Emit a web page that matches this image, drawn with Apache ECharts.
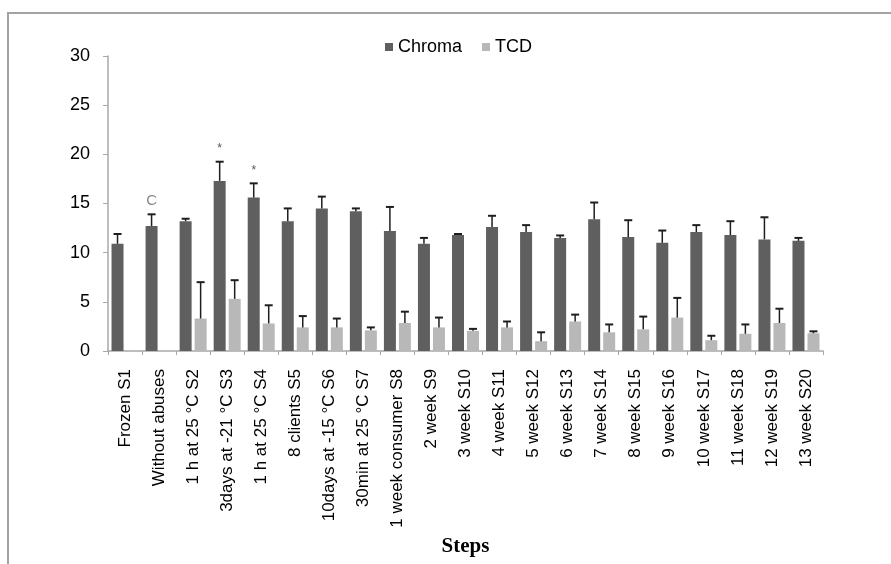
<!DOCTYPE html>
<html>
<head>
<meta charset="utf-8">
<script src="https://cdn.jsdelivr.net/npm/echarts@6/dist/echarts.min.js"></script>
<style>
  html, body { margin: 0; padding: 0; background: #fff; }
  #chart { width: 891px; height: 564px; }
</style>
</head>
<body>
<div id="chart"></div>
<script>
// categories (x axis)
const steps = [
  "Frozen S1", "Without abuses", "1 h at 25 °C S2", "3days at -21 °C S3", "1 h at 25 °C S4",
  "8 clients S5", "10days at -15 °C S6", "30min at 25 °C S7", "1 week consumer S8",
  "2 week S9", "3 week S10", "4 week S11", "5 week S12", "6 week S13", "7 week S14",
  "8 week S15", "9 week S16", "10 week S17", "11 week S18", "12 week S19", "13 week S20"
];
// means and upper error bars
const chroma    = [10.9, 12.7, 13.2, 17.3, 15.6, 13.2, 14.5, 14.2, 12.2, 10.9, 11.8, 12.6, 12.1, 11.5, 13.4, 11.6, 11.0, 12.1, 11.8, 11.35, 11.2];
const chromaErr = [1.0, 1.2, 0.25, 1.95, 1.45, 1.3, 1.2, 0.3, 2.45, 0.6, 0.1, 1.15, 0.7, 0.25, 1.7, 1.7, 1.25, 0.7, 1.4, 2.25, 0.3];
const tcd       = [null, null, 3.3, 5.3, 2.8, 2.4, 2.4, 2.1, 2.85, 2.4, 2.05, 2.4, 1.0, 3.0, 1.9, 2.2, 3.4, 1.1, 1.75, 2.85, 1.8];
const tcdErr    = [null, null, 3.7, 1.9, 1.85, 1.15, 0.9, 0.3, 1.15, 1.0, 0.2, 0.6, 0.9, 0.7, 0.8, 1.3, 2.0, 0.45, 0.95, 1.45, 0.2];
// letters / stars above chroma bars
const chromaMarks = ["", "C", "", "*", "*", "", "", "", "", "", "", "", "", "", "", "", "", "", "", "", ""];
// y axis
const yMin = 0, yMax = 30, yStep = 5;

const barW = 12;
const pairOffset = 7.5; // half of bar + gap

function errorSeries(name, means, errs, marks, shift) {
  return {
    name: name + " err",
    type: "custom",
    z: 5,
    data: means.map((v, i) => [i, v, errs[i]]),
    encode: { x: 0, y: 1 },
    renderItem: function (params, api) {
      const mean = api.value(1);
      const err = api.value(2);
      if (mean == null || isNaN(mean) || err == null || isNaN(err)) return;
      const base = api.coord([api.value(0), mean]);
      const top = api.coord([api.value(0), mean + err]);
      const x = base[0] + shift;
      const children = [
        { type: "line", shape: { x1: x, y1: base[1], x2: x, y2: top[1] }, style: { stroke: "#1e1e1e", lineWidth: 1.5 } },
        { type: "line", shape: { x1: x - 4, y1: top[1], x2: x + 4, y2: top[1] }, style: { stroke: "#1e1e1e", lineWidth: 2 } }
      ];
      const mark = marks ? marks[params.dataIndex] : "";
      if (mark) {
        children.push({
          type: "text",
          style: {
            text: mark, x: x, y: top[1] - 13,
            fill: mark === "C" ? "#8a8a8a" : "#555",
            font: (mark === "C" ? "15px" : "12px") + " 'Liberation Sans', Arial",
            align: "center", verticalAlign: "middle"
          }
        });
      }
      return { type: "group", children: children };
    }
  };
}

const chart = echarts.init(document.getElementById("chart"));
chart.setOption({
  animation: false,
  backgroundColor: "#fff",
  textStyle: { fontFamily: "'Liberation Sans', Arial, sans-serif" },
  graphic: [
    { type: "rect", shape: { x: 8, y: 13, width: 900, height: 600 }, style: { fill: "none", stroke: "#a3a3a3", lineWidth: 2 } }
  ],
  legend: {
    left: 380, top: 33,
    icon: "rect", itemWidth: 8, itemHeight: 8, itemGap: 20,
    textStyle: { fontSize: 18, color: "#000" },
    data: ["Chroma", "TCD"]
  },
  grid: { left: 108, right: 68, top: 56, bottom: 213 },
  xAxis: {
    type: "category",
    data: steps,
    name: "Steps",
    nameLocation: "middle",
    nameGap: 184,
    nameTextStyle: { fontFamily: "'Liberation Serif', 'DejaVu Serif', serif", fontWeight: "bold", fontSize: 21, color: "#000" },
    axisLine: { lineStyle: { color: "#a8a8a8", width: 1.5 } },
    axisTick: { show: true, interval: 0, length: 4, lineStyle: { color: "#a8a8a8" } },
    axisLabel: { interval: 0, rotate: 90, fontSize: 17, color: "#000", margin: 18 }
  },
  yAxis: {
    type: "value",
    min: yMin, max: yMax, interval: yStep,
    splitLine: { show: false },
    axisLine: { show: true, lineStyle: { color: "#a8a8a8", width: 1.5 } },
    axisTick: { show: true, length: 5, lineStyle: { color: "#a8a8a8" } },
    axisLabel: { fontSize: 18, color: "#000", margin: 18 }
  },
  series: [
    { name: "Chroma", type: "bar", data: chroma, barWidth: barW, barGap: "25%", itemStyle: { color: "#5f5f5f" } },
    { name: "TCD", type: "bar", data: tcd, barWidth: barW, barGap: "25%", itemStyle: { color: "#b8b8b8" } },
    errorSeries("Chroma", chroma, chromaErr, chromaMarks, -pairOffset),
    errorSeries("TCD", tcd, tcdErr, null, pairOffset)
  ]
});
</script>
</body>
</html>
